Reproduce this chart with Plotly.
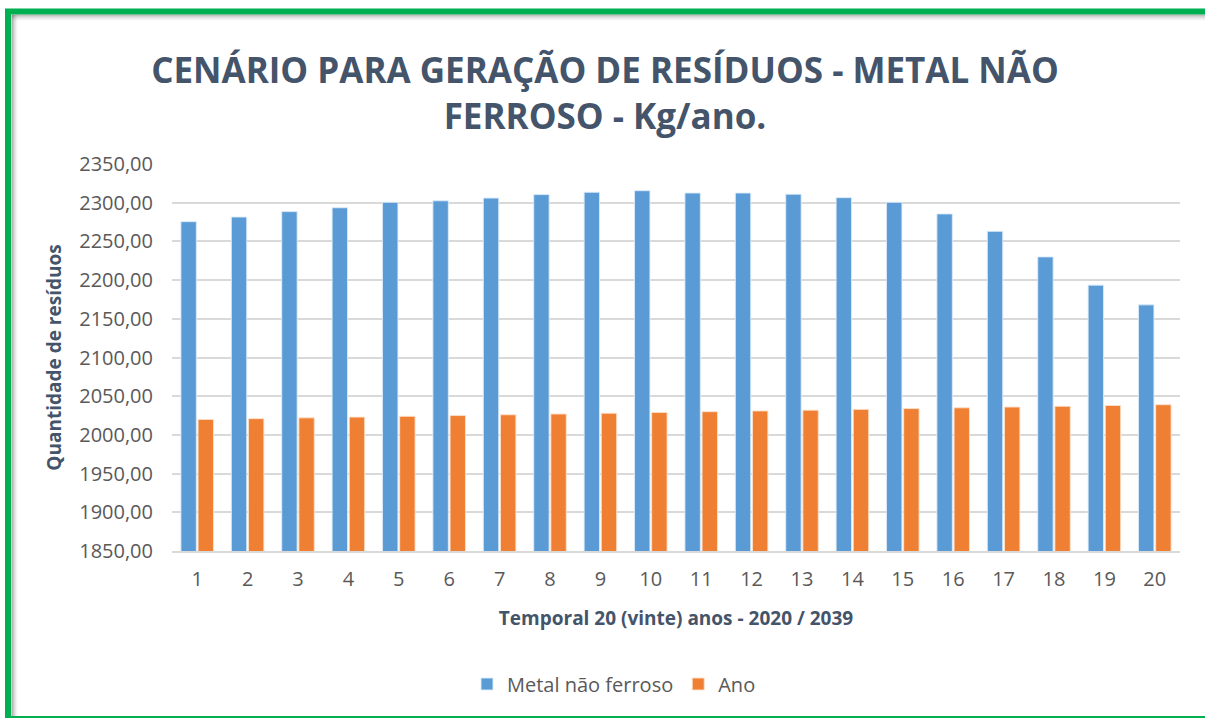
import plotly.graph_objects as go

categories = [str(i) for i in range(1, 21)]
metal = [2275.5, 2281.5, 2288.5, 2293.5, 2300.5, 2302.5, 2306.0, 2310.5, 2313.5, 2315.5,
         2312.5, 2312.5, 2311.0, 2306.5, 2300.5, 2285.5, 2263.0, 2230.0, 2193.5, 2168.0]
ano = [2020, 2021, 2022, 2023, 2024, 2025, 2026, 2027, 2028, 2029,
       2030, 2031, 2032, 2033, 2034, 2035, 2036, 2037, 2038, 2039]
y_ticks = [1850, 1900, 1950, 2000, 2050, 2100, 2150, 2200, 2250, 2300, 2350]

FONT = "Open Sans"
TXT = "#595959"
TITLE = "#44546A"

fig = go.Figure()
fig.add_trace(go.Bar(x=categories, y=metal, name="Metal não ferroso",
                     marker=dict(color="#5B9BD5", line=dict(color="rgba(220,235,250,0.9)", width=1))))
fig.add_trace(go.Bar(x=categories, y=ano, name="Ano",
                     marker=dict(color="#EF7F32", line=dict(color="rgba(252,225,205,0.9)", width=1))))

W, H = 1205, 718
L, R, T, B = 172, 25, 164, 167
pw, ph = W - L - R, H - T - B

def px_x(px):
    return (px - L) / pw

def px_y(py):
    return (H - B - py) / ph

fig.update_layout(
    width=W, height=H,
    margin=dict(l=L, r=R, t=T, b=B),
    paper_bgcolor="white", plot_bgcolor="white",
    separators=",.",
    barmode="group", bargap=0.32, bargroupgap=0.1,
    title=dict(text="CENÁRIO PARA GERAÇÃO DE RESÍDUOS - METAL NÃO<br>FERROSO - Kg/ano.",
               x=605 / W, xref="container", xanchor="center", y=1 - 83 / H, yanchor="middle",
               font=dict(family=FONT, size=35, color=TITLE, weight="bold")),
    font=dict(family=FONT, color=TXT),
    showlegend=True,
    legend=dict(orientation="h", x=614 / W, xref="container", xanchor="center",
                y=1 - 684 / H, yref="container", yanchor="middle",
                font=dict(size=20, color=TXT), traceorder="normal", itemwidth=30),
    xaxis=dict(showgrid=False, showline=True, linecolor="#D9D9D9", linewidth=1.5,
               tickfont=dict(size=20, color=TXT), ticks="", ticklabelstandoff=9,
               title=dict(text="<b>Temporal 20 (vinte) anos - 2020 / 2039</b>",
                          font=dict(size=19, color=TITLE), standoff=21)),
    yaxis=dict(range=[1850, 2350], tickvals=y_ticks, tickformat=".2f",
               showgrid=True, gridcolor="#D9D9D9", gridwidth=1.5, zeroline=False,
               tickfont=dict(size=20, color=TXT), ticks="", ticklabelstandoff=18,
               title=dict(text="<b>Quantidade de resíduos</b>",
                          font=dict(size=19, color=TITLE), standoff=12)),
)

# soft shadow inside the frame (top and left)
for i, a in enumerate([0.3, 0.22, 0.15, 0.1, 0.06, 0.03]):
    fig.add_shape(type="line", xref="paper", yref="paper",
                  x0=px_x(12 + i), x1=px_x(12 + i), y0=px_y(15), y1=px_y(716),
                  line=dict(color=f"rgba(0,0,0,{a})", width=1.2), layer="above")
    fig.add_shape(type="line", xref="paper", yref="paper",
                  x0=px_x(12), x1=px_x(1205), y0=px_y(15 + i), y1=px_y(15 + i),
                  line=dict(color=f"rgba(0,0,0,{a})", width=1.2), layer="above")

# green frame
fig.add_shape(type="line", xref="paper", yref="paper",
              x0=px_x(5), x1=px_x(1205), y0=px_y(11.5), y1=px_y(11.5),
              line=dict(color="#00B050", width=6), layer="above")
fig.add_shape(type="line", xref="paper", yref="paper",
              x0=px_x(8), x1=px_x(8), y0=px_y(9), y1=px_y(718),
              line=dict(color="#00B050", width=6), layer="above")
fig.add_shape(type="line", xref="paper", yref="paper",
              x0=px_x(5), x1=px_x(1205), y0=px_y(717), y1=px_y(717),
              line=dict(color="#00B050", width=2), layer="above")

fig.write_html("out.html", config={"displayModeBar": False},
               post_script="document.body.style.margin='0';")
